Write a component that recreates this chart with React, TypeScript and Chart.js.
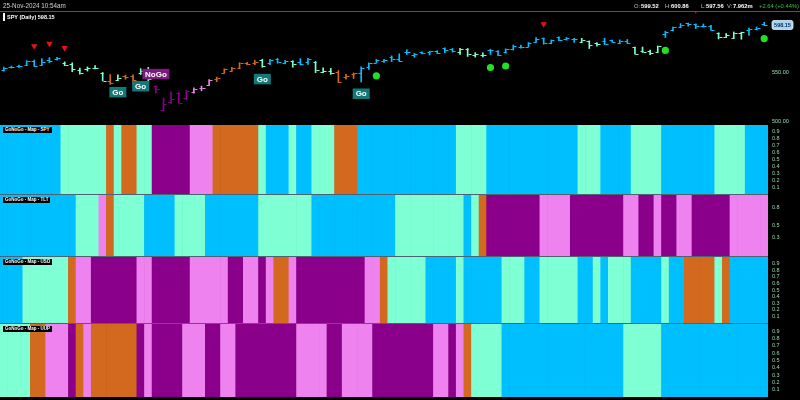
import React, { useEffect, useRef } from 'react';
import { Chart, registerables } from 'chart.js';

Chart.register(...registerables);

// ---------- DATA ----------
const julDays = [5, 8, 9, 10, 11, 12, 15, 16, 17, 18, 19, 22, 23, 24, 25, 26, 29, 30, 31];
const augDays = [1, 2, 5, 6, 7, 8, 9, 12, 13, 14, 15, 16, 19, 20, 21, 22, 23, 26, 27, 28, 29, 30];
const sepDays = [3, 4, 5, 6, 9, 10, 11, 12, 13, 16, 17, 18, 19, 20, 23, 24, 25, 26, 27, 30];
const octDays = [1, 2, 3, 4, 7, 8, 9, 10, 11, 14, 15, 16, 17, 18, 21, 22, 23, 24, 25, 28, 29, 30, 31];
const novDays = [1, 4, 5, 6, 7, 8, 11, 12, 13, 14, 15, 18, 19, 20, 21, 22, 25];

const opens = [
  551.8, 555.4, 556.3, 557.1, 561.4, 557.6, 562.0, 562.9, 558.8, 558.5, 552.4, 553.0, 554.5, 548.9, 541.4, 542.3, 546.0, 546.3, 548.9,
  552.6, 535.8, 511.6, 519.2, 528.5, 523.9, 529.8, 534.2, 536.5, 542.9, 549.5, 551.4, 554.7, 559.2, 559.8, 562.6, 559.5, 563.2, 559.5, 561.2, 560.3, 560.8,
  560.5, 550.2, 550.9, 549.9, 544.7, 548.4, 548.7, 555.0, 559.7, 561.7, 565.1, 563.7, 571.0, 567.8, 570.3, 571.0, 571.1, 574.4, 573.4, 570.4,
  573.4, 567.7, 567.4, 572.4, 571.3, 570.4, 573.2, 575.8, 576.0, 581.2, 584.6, 579.8, 585.9, 584.1, 583.9, 581.1, 581.3, 579.9, 581.5, 582.6, 579.9, 581.3, 575.6,
  571.3, 571.2, 570.7, 589.2, 593.1, 596.2, 599.8, 598.7, 597.4, 597.3, 589.7, 586.2, 584.7, 590.4, 593.4, 593.7, 599.52,
];
const highs = [
  555.1, 556.2, 557.2, 561.7, 562.3, 563.7, 564.8, 565.2, 560.5, 559.5, 554.1, 555.3, 556.7, 549.6, 547.5, 547.2, 547.1, 547.3, 553.5,
  554.9, 536.0, 523.6, 529.8, 529.0, 531.3, 534.0, 535.7, 542.3, 544.9, 553.4, 555.0, 559.6, 560.0, 562.1, 563.2, 563.1, 563.9, 562.1, 561.7, 563.7, 564.2,
  560.8, 554.4, 553.8, 551.6, 547.7, 549.2, 555.4, 559.4, 563.0, 563.1, 566.6, 568.7, 572.9, 569.3, 570.8, 571.4, 571.9, 574.7, 574.2, 574.4,
  574.1, 569.9, 569.8, 573.4, 571.9, 573.8, 577.7, 577.6, 580.3, 585.3, 584.9, 582.8, 586.1, 585.4, 584.5, 584.5, 581.9, 580.1, 584.5, 582.7, 582.9, 583.3, 575.6,
  575.6, 572.5, 576.7, 591.9, 596.0, 599.6, 600.2, 599.3, 599.2, 597.8, 590.2, 589.5, 591.0, 590.8, 595.1, 596.2, 600.86,
];
const lows = [
  551.1, 554.2, 554.9, 556.8, 555.8, 557.2, 559.6, 562.1, 556.6, 550.4, 547.9, 551.0, 553.3, 540.9, 537.5, 541.5, 542.7, 537.8, 547.6,
  539.4, 528.6, 510.3, 517.9, 518.2, 521.8, 528.6, 530.9, 536.1, 540.2, 548.9, 551.3, 553.9, 557.3, 557.6, 554.9, 557.6, 559.1, 558.3, 555.0, 557.2, 557.9,
  549.5, 549.5, 547.7, 539.4, 542.7, 543.4, 539.9, 552.7, 559.5, 559.9, 560.8, 560.8, 568.1, 565.2, 568.5, 567.5, 568.9, 569.9, 570.4, 568.1,
  566.0, 565.3, 565.5, 568.0, 566.9, 569.5, 572.6, 574.5, 575.9, 580.6, 578.5, 578.9, 582.2, 582.6, 580.4, 580.4, 574.1, 576.6, 578.1, 580.5, 578.9, 579.3, 568.4,
  570.1, 567.9, 570.5, 585.4, 592.1, 596.2, 597.0, 594.4, 596.0, 592.7, 583.9, 585.3, 584.6, 583.6, 587.5, 593.1, 597.56,
];
const closes = [
  554.6, 555.3, 555.8, 561.3, 556.5, 560.0, 561.5, 564.9, 556.9, 552.7, 549.0, 554.7, 553.8, 541.2, 538.4, 544.4, 544.8, 542.0, 550.8,
  543.0, 532.9, 517.4, 522.2, 518.7, 530.7, 533.0, 533.3, 542.0, 543.8, 553.1, 554.3, 559.6, 558.7, 560.6, 556.2, 562.1, 560.8, 561.6, 558.3, 558.4, 563.7,
  552.1, 551.0, 549.6, 540.4, 546.4, 548.8, 554.4, 559.1, 562.0, 562.8, 563.1, 561.4, 571.0, 568.3, 569.7, 571.3, 570.0, 572.3, 571.5, 573.8,
  568.6, 568.9, 567.8, 573.0, 567.8, 573.2, 577.1, 576.1, 579.6, 584.3, 579.8, 582.3, 582.4, 584.6, 583.6, 583.3, 578.0, 579.2, 579.0, 580.8, 581.8, 580.0, 568.6,
  571.0, 569.8, 576.7, 591.0, 595.6, 598.2, 598.8, 596.9, 597.2, 593.4, 585.8, 588.2, 590.3, 590.5, 593.7, 595.5, 598.15,
];

// GoNoGo states: G strong Go, g weak Go, A amber, n weak NoGo, N strong NoGo (run lengths)
const spyMap: [string, number][] = [
  ['G', 8], ['g', 6], ['A', 1], ['g', 1], ['A', 2], ['g', 2], ['N', 5], ['n', 3], ['A', 6], ['g', 1], ['G', 3], ['g', 1],
  ['G', 2], ['g', 3], ['A', 3], ['G', 13], ['g', 4], ['G', 12], ['g', 3], ['G', 4], ['g', 4], ['G', 7], ['g', 4], ['G', 3],
];
const tltMap: [string, number][] = [
  ['G', 10], ['g', 3], ['n', 1], ['A', 1], ['g', 4], ['G', 4], ['g', 4], ['G', 7], ['g', 7], ['G', 11], ['g', 9], ['G', 1],
  ['g', 1], ['A', 1], ['N', 7], ['n', 4], ['N', 7], ['n', 2], ['N', 2], ['n', 1], ['N', 2], ['n', 2], ['N', 5], ['n', 5],
];
const usoMap: [string, number][] = [
  ['G', 3], ['g', 6], ['A', 1], ['n', 2], ['N', 6], ['n', 2], ['N', 5], ['n', 5], ['N', 2], ['n', 2], ['N', 1], ['n', 1],
  ['A', 2], ['n', 1], ['N', 9], ['n', 2], ['A', 1], ['g', 5], ['G', 4], ['g', 1], ['G', 5], ['g', 3], ['G', 2], ['g', 5],
  ['G', 2], ['g', 1], ['G', 1], ['g', 3], ['G', 4], ['g', 1], ['G', 2], ['A', 4], ['g', 1], ['A', 1], ['G', 5],
];
const uupMap: [string, number][] = [
  ['g', 4], ['A', 2], ['n', 3], ['N', 1], ['A', 1], ['n', 1], ['A', 6], ['N', 1], ['n', 1], ['N', 4], ['n', 3], ['N', 2],
  ['n', 2], ['N', 8], ['n', 4], ['N', 2], ['n', 4], ['N', 8], ['n', 2], ['N', 1], ['n', 1], ['A', 1], ['g', 4], ['G', 16],
  ['g', 5], ['G', 14],
];

const sellSignals = [4, 6, 8, 71, 91];
const buySignals = [49, 64, 66, 87, 100];
const goLabelBars = [15, 18, 34, 47];
const noGoLabelBars = [20];

const priceTicks = [500, 550];
const mapTicks = [0.1, 0.2, 0.3, 0.4, 0.5, 0.6, 0.7, 0.8, 0.9];
const tltTicks = [0.3, 0.5, 0.8];

const lastPriceText = '598.15';

// ---------- STYLE ----------
const COLORS: Record<string, string> = {
  G: '#00bfff',
  g: '#7fffd4',
  A: '#d2691e',
  n: '#ee82ee',
  N: '#8b008b',
};
const TICK_COLOR = '#9adcb0';
const FONT = "'Liberation Sans', Arial, sans-serif";
const AXIS_W = 32;

const expand = (runs: [string, number][]) => runs.flatMap(([s, n]) => Array(n).fill(s) as string[]);
const monthLabels = (m: string, days: number[]) => days.map((d) => `${d}-${m}-2024`);
const labels = [
  ...monthLabels('Jul', julDays),
  ...monthLabels('Aug', augDays),
  ...monthLabels('Sep', sepDays),
  ...monthLabels('Oct', octDays),
  ...monthLabels('Nov', novDays),
];

const spyStates = expand(spyMap);
const priceColors = spyStates.map((s) => COLORS[s]);

function rightAxis(min: number, max: number, ticks: number[], fmt: (v: number) => string) {
  return {
    position: 'right' as const,
    min,
    max,
    grid: { display: false, drawTicks: false },
    border: { display: false },
    ticks: {
      color: TICK_COLOR,
      font: { size: 5.5, family: FONT },
      padding: 4,
      autoSkip: false,
      callback: (v: any) => fmt(Number(v)),
    },
    afterBuildTicks: (s: any) => {
      s.ticks = ticks.map((v) => ({ value: v }));
    },
    afterFit: (s: any) => {
      s.width = AXIS_W;
      s.paddingTop = 0;
      s.paddingBottom = 0;
    },
  };
}

const ohlcPlugin = {
  id: 'ohlcMarks',
  afterDatasetsDraw(chart: any) {
    const { ctx, chartArea } = chart;
    const x = chart.scales.x;
    const y = chart.scales.y;
    ctx.save();
    ctx.beginPath();
    ctx.rect(chartArea.left, chartArea.top, chartArea.right - chartArea.left, chartArea.bottom - chartArea.top);
    ctx.clip();
    ctx.lineWidth = 1;
    opens.forEach((o, i) => {
      const cx = Math.round(x.getPixelForValue(i)) + 0.5;
      const yo = Math.round(y.getPixelForValue(o)) + 0.5;
      const yc = Math.round(y.getPixelForValue(closes[i])) + 0.5;
      ctx.strokeStyle = priceColors[i];
      ctx.beginPath();
      ctx.moveTo(cx - 3, yo);
      ctx.lineTo(cx, yo);
      ctx.moveTo(cx, yc);
      ctx.lineTo(cx + 3, yc);
      ctx.stroke();
    });
    // red down-triangles
    ctx.fillStyle = '#e8101a';
    sellSignals.forEach((i) => {
      const cx = x.getPixelForValue(i);
      const ty = y.getPixelForValue(highs[i]) - 13;
      ctx.beginPath();
      ctx.moveTo(cx - 3.2, ty - 2.8);
      ctx.lineTo(cx + 3.2, ty - 2.8);
      ctx.lineTo(cx, ty + 2.8);
      ctx.closePath();
      ctx.fill();
    });
    // green dots
    ctx.fillStyle = '#22e022';
    buySignals.forEach((i) => {
      const cx = x.getPixelForValue(i);
      const ty = y.getPixelForValue(lows[i]) + 13;
      ctx.beginPath();
      ctx.arc(cx, ty, 3.6, 0, Math.PI * 2);
      ctx.fill();
    });
    // Go / NoGo labels
    ctx.font = `bold 8px ${FONT}`;
    ctx.textAlign = 'center';
    ctx.textBaseline = 'middle';
    goLabelBars.forEach((i) => {
      const cx = x.getPixelForValue(i);
      const top = y.getPixelForValue(lows[i]) + 6.5;
      ctx.fillStyle = '#127878';
      ctx.fillRect(cx - 8.5, top, 17, 10.5);
      ctx.fillStyle = '#ffffff';
      ctx.fillText('Go', cx, top + 5.6);
    });
    noGoLabelBars.forEach((i) => {
      const cx = x.getPixelForValue(i);
      const bottom = y.getPixelForValue(highs[i]) - 6.5;
      ctx.fillStyle = '#7d1a7d';
      ctx.fillRect(cx - 13.5, bottom - 10.5, 27, 10.5);
      ctx.fillStyle = '#ffffff';
      ctx.fillText('NoGo', cx, bottom - 4.9);
    });
    ctx.restore();

    // last price box on axis
    const last = closes.length - 1;
    const ly = y.getPixelForValue(closes[last]);
    const bx = chartArea.right + 4;
    ctx.save();
    ctx.fillStyle = '#a6d6f2';
    ctx.strokeStyle = '#e0f4ff';
    ctx.lineWidth = 0.8;
    ctx.beginPath();
    ctx.roundRect(bx, ly - 4.5, 21, 9, 2);
    ctx.fill();
    ctx.stroke();
    ctx.fillStyle = '#0b2a55';
    ctx.font = `bold 5.5px ${FONT}`;
    ctx.textAlign = 'center';
    ctx.textBaseline = 'middle';
    ctx.fillText(lastPriceText, bx + 10.5, ly + 0.3);
    ctx.restore();
  },
};

function makePriceChart(canvas: HTMLCanvasElement) {
  return new Chart(canvas, {
    type: 'bar',
    data: {
      labels,
      datasets: [
        {
          data: lows.map((l, i) => [l, highs[i]]) as any,
          backgroundColor: priceColors,
          barThickness: 1,
          borderWidth: 0,
        },
      ],
    },
    options: {
      animation: false,
      responsive: false,
      devicePixelRatio: 1,
      events: [],
      layout: { padding: { top: 12, bottom: 0, left: 0, right: 0 }, autoPadding: false },
      plugins: { legend: { display: false }, tooltip: { enabled: false } },
      scales: {
        x: { display: false, offset: true },
        y: rightAxis(497, 611.4, priceTicks, (v) => v.toFixed(2)) as any,
      },
    } as any,
    plugins: [ohlcPlugin],
  });
}

function makeMapChart(canvas: HTMLCanvasElement, runs: [string, number][], ticks: number[]) {
  const states = expand(runs);
  return new Chart(canvas, {
    type: 'bar',
    data: {
      labels,
      datasets: [
        {
          data: states.map(() => 1),
          backgroundColor: states.map((s) => COLORS[s]),
          barPercentage: 1,
          categoryPercentage: 1,
          borderWidth: 0,
        },
      ],
    },
    options: {
      animation: false,
      responsive: false,
      devicePixelRatio: 1,
      events: [],
      layout: { padding: 0, autoPadding: false },
      plugins: { legend: { display: false }, tooltip: { enabled: false } },
      scales: {
        x: { display: false },
        y: rightAxis(0, 1, ticks, (v) => v.toFixed(1)) as any,
      },
    } as any,
  });
}

const panels = [
  { key: 'SPY', top: 125, height: 69, runs: spyMap, ticks: mapTicks },
  { key: 'TLT', top: 195, height: 61, runs: tltMap, ticks: tltTicks },
  { key: 'USO', top: 257, height: 66, runs: usoMap, ticks: mapTicks },
  { key: 'UUP', top: 324, height: 73, runs: uupMap, ticks: mapTicks },
];
const separators = [194, 256, 323];

const abs = (style: React.CSSProperties): React.CSSProperties => ({ position: 'absolute', whiteSpace: 'nowrap', ...style });

export default function App() {
  const priceRef = useRef<HTMLCanvasElement>(null);
  const mapRefs = useRef<(HTMLCanvasElement | null)[]>([]);

  useEffect(() => {
    const charts: Chart[] = [];
    if (priceRef.current) charts.push(makePriceChart(priceRef.current));
    panels.forEach((p, i) => {
      const c = mapRefs.current[i];
      if (c) charts.push(makeMapChart(c, p.runs, p.ticks));
    });
    return () => charts.forEach((c) => c.destroy());
  }, []);

  const headerFont: React.CSSProperties = { fontFamily: FONT, fontSize: '5.8px', lineHeight: '7px' };
  const hdrLabel: React.CSSProperties = { ...headerFont, color: '#bdbdbd', top: 3 };
  const hdrValue: React.CSSProperties = { ...headerFont, color: '#ffffff', fontWeight: 'bold', top: 3 };

  return (
    <div style={{ position: 'fixed', left: 0, top: 0, width: 800, height: 400, background: '#000', overflow: 'hidden' }}>
      <canvas ref={priceRef} width={800} height={124} style={{ position: 'absolute', left: 0, top: 0 }} />
      {panels.map((p, i) => (
        <canvas
          key={p.key}
          ref={(el) => {
            mapRefs.current[i] = el;
          }}
          width={800}
          height={p.height}
          style={{ position: 'absolute', left: 0, top: p.top }}
        />
      ))}
      {separators.map((y) => (
        <div key={y} style={abs({ left: 0, top: y, width: 768, height: 1, background: '#4f6272' })} />
      ))}
      <div style={abs({ left: 0, top: 11, width: 800, height: 1, background: '#555' })} />

      <div style={abs({ ...headerFont, fontSize: '6.3px', left: 3, top: 2, color: '#d0d0d0' })}>25-Nov-2024 10:54am</div>
      <div style={abs({ ...hdrLabel, left: 634 })}>O:</div>
      <div style={abs({ ...hdrValue, left: 641 })}>599.52</div>
      <div style={abs({ ...hdrLabel, left: 665 })}>H:</div>
      <div style={abs({ ...hdrValue, left: 671 })}>600.86</div>
      <div style={abs({ ...hdrLabel, left: 701 })}>L:</div>
      <div style={abs({ ...hdrValue, left: 706 })}>597.56</div>
      <div style={abs({ ...hdrLabel, left: 727 })}>V:</div>
      <div style={abs({ ...hdrValue, left: 733 })}>7.962m</div>
      <div style={abs({ ...headerFont, top: 3, left: 759, color: '#3fbf3f' })}>+2.64 (+0.44%)</div>

      <div style={abs({ left: 3, top: 13, width: 2, height: 8, background: '#fff' })} />
      <div style={abs({ left: 7, top: 14, fontFamily: FONT, fontSize: '5.5px', lineHeight: '6px', fontWeight: 'bold', color: '#fff' })}>
        SPY (Daily) 598.15
      </div>

      {panels.map((p) => (
        <div
          key={'lbl' + p.key}
          style={abs({
            left: 3,
            top: p.top + 2,
            background: '#000',
            color: '#fff',
            fontFamily: FONT,
            fontWeight: 'bold',
            fontSize: '4.5px',
            lineHeight: '6px',
            padding: '0 2px',
          })}
        >
          {`GoNoGo - Map - ${p.key}`}
        </div>
      ))}
    </div>
  );
}
